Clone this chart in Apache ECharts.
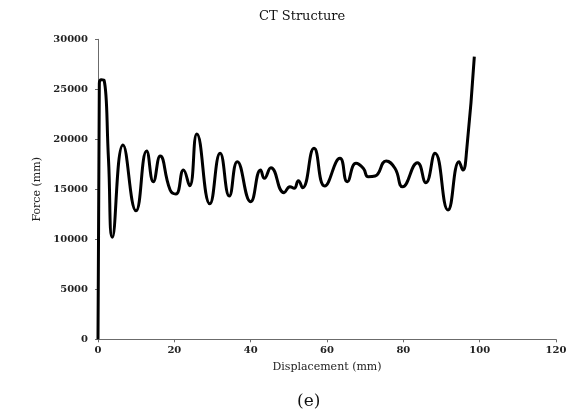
<!DOCTYPE html>
<html>
<head>
<meta charset="utf-8">
<script src="https://cdn.jsdelivr.net/npm/echarts@6/dist/echarts.min.js"></script>
<style>
  html, body { margin: 0; padding: 0; background: #fff; }
  #chart { width: 575px; height: 415px; }
</style>
</head>
<body>
<div id="chart"></div>
<script>
// Force–displacement response of the CT structure
var displacement = [
  0, 0.35, 0.9, 1.6, 2.75, 3.75, 6.55, 9.96, 12.75, 14.5, 16.3,
  18.9, 20.4, 22.4, 24.0, 25.9, 29.3, 32.0, 34.4, 36.5, 40.0, 42.6,
  43.6, 45.3, 48.75, 50.3, 51.4, 52.5, 53.6, 56.6, 59.4, 63.4, 65.3, 67.6,
  69.5, 70.8, 72.6, 75.5, 77.8, 79.8, 83.7, 85.9, 88.3, 91.7, 94.6, 95.6,
  96.6, 98.6
];
var force = [
  0, 25600, 25950, 25900, 18000, 10200, 19430, 12860, 18830, 15760, 18330,
  14930, 14530, 16930, 15360, 20530, 13550, 18600, 14330, 17760, 13760, 16930,
  16100, 17160, 14660, 15260, 15100, 15860, 15160, 19100, 15330, 18100, 15760, 17600,
  17100, 16260, 16330, 17830, 17100, 15260, 17660, 15660, 18600, 12930, 17760, 16930,
  18930, 28260
];
var xTicks = { min: 0, max: 120, interval: 20 };
var yTicks = { min: 0, max: 30000, interval: 5000 };

var points = displacement.map(function (x, i) { return [x, force[i]]; });

var serif = 'DejaVu Serif';
var plain = function (v) { return String(v); };
var chart = echarts.init(document.getElementById('chart'));
chart.setOption({
  animation: false,
  backgroundColor: '#ffffff',
  title: [
    {
      text: 'CT Structure',
      left: 259, top: 10, padding: 0,
      textStyle: { fontFamily: serif, fontSize: 13, fontWeight: 'normal', color: '#111' }
    },
    {
      text: '(e)',
      left: 297, top: 393, padding: 0,
      textStyle: { fontFamily: serif, fontSize: 17, fontWeight: 'normal', color: '#111' }
    }
  ],
  grid: { left: 98, right: 19, top: 39.3, bottom: 75.7, containLabel: false },
  xAxis: {
    type: 'value',
    min: xTicks.min, max: xTicks.max, interval: xTicks.interval,
    name: 'Displacement (mm)',
    nameLocation: 'middle',
    nameGap: 22,
    nameTextStyle: { fontFamily: serif, fontSize: 11, color: '#222' },
    axisLine: { show: true, onZero: false, lineStyle: { color: '#6b6b6b', width: 1 } },
    axisTick: { show: true, length: 3, lineStyle: { color: '#6b6b6b' } },
    axisLabel: { margin: 6, formatter: plain, fontFamily: serif, fontSize: 10, fontWeight: 'bold', color: '#222' },
    splitLine: { show: false }
  },
  yAxis: {
    type: 'value',
    min: yTicks.min, max: yTicks.max, interval: yTicks.interval,
    name: 'Force (mm)',
    nameLocation: 'middle',
    nameGap: 46,
    nameTextStyle: { fontFamily: serif, fontSize: 11, color: '#222' },
    axisLine: { show: true, lineStyle: { color: '#6b6b6b', width: 1 } },
    axisTick: { show: true, length: 3, lineStyle: { color: '#6b6b6b' } },
    axisLabel: { margin: 10, formatter: plain, fontFamily: serif, fontSize: 10, fontWeight: 'bold', color: '#222' },
    splitLine: { show: false }
  },
  series: [{
    type: 'line',
    data: points,
    smooth: 0.5,
    showSymbol: false,
    symbol: 'none',
    clip: false,
    lineStyle: { color: '#000', width: 3 }
  }]
});
</script>
</body>
</html>
